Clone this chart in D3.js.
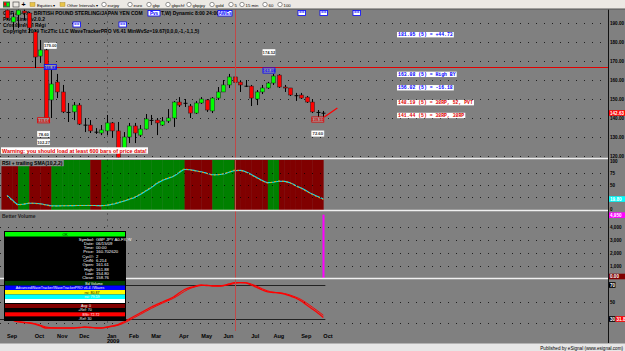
<!DOCTYPE html>
<html><head><meta charset="utf-8">
<script src="https://cdn.jsdelivr.net/npm/d3@7"></script>
<style>
body{margin:0;background:#808080;overflow:hidden}
svg{display:block;font-family:'Liberation Sans',Arial,sans-serif}
</style></head>
<body><svg id="c" width="625" height="351"></svg>
<script>
// ---------------- DATA ----------------
const monthLabels = ["Sep","Oct","Nov","Dec","Jan","Feb","Mar","Apr","May","Jun","Jul","Aug","Sep","Oct"];
const monthBars   = [0,5,9,13,18,22,26,31,35,39,44,48,53,57];
const yearLabel = {bar:18, text:"2009"};

const open  = [196.8,190.5,194.2,196.3,195.3,185.3,172.6,175.8,149.5,158.9,153.7,143.2,143.2,146.8,136.5,136.3,132.8,132.1,133.2,137.4,133.2,122.1,130.0,135.8,131.0,134.2,139.0,138.9,136.3,138.4,140.0,148.4,148.0,146.3,142.6,147.9,149.5,143.7,150.5,153.7,157.4,161.61,158.9,157.0,156.8,150.0,153.7,155.8,158.4,162.6,156.3,155.8,152.0,152.1,151.0,148.4,143.2,142.8];
const high  = [198.5,195.3,197.5,197.4,195.8,186.3,181.0,179.0,165.3,163.2,157.4,147.9,148.4,147.9,140.0,138.9,134.7,136.3,141.6,137.9,137.9,132.6,137.4,137.4,136.3,142.1,141.6,140.0,140.5,144.7,148.9,151.0,150.0,147.4,148.9,151.0,150.0,151.0,156.3,160.0,163.2,161.88,159.5,160.0,157.4,154.7,157.4,159.0,163.2,163.08,157.4,155.8,153.2,153.2,151.6,150.0,144.2,143.7];
const low   = [191.6,186.3,187.4,191.6,184.7,166.3,169.0,139.0,140.0,150.5,142.6,137.9,138.9,136.3,132.6,132.1,131.6,131.0,131.0,129.5,118.0,121.6,126.8,126.8,130.0,134.0,136.3,131.0,135.8,137.4,135.3,145.8,145.8,140.0,142.1,147.4,143.2,142.6,149.5,153.7,155.8,154.80,153.7,156.3,146.3,146.8,152.6,155.3,157.4,155.8,153.7,151.6,149.0,150.0,147.9,142.6,140.0,140.0];
const close = [192.6,193.2,196.8,195.3,187.4,172.1,175.8,140.0,157.9,153.7,143.2,143.0,146.8,136.8,136.3,133.2,132.6,133.7,137.4,133.2,119.0,130.0,135.8,132.1,134.2,139.5,138.9,137.4,138.4,140.0,148.4,146.8,147.9,142.6,147.9,150.0,144.2,150.5,153.7,157.4,161.6,158.76,157.4,156.8,150.5,153.7,155.8,158.4,162.1,156.3,155.8,152.1,151.9,150.5,148.4,143.2,143.0,142.6];

const rsi    = [27.1,16.7,8.3,10.4,12.5,11.5,10.4,8.3,6.3,6.5,6.8,7.0,7.2,7.3,7.4,7.5,7.0,6.8,8.0,10.4,13.5,16.7,20.8,25.0,31.3,38.5,45.8,54.2,60.4,64.6,68.8,77.0,83.3,81.3,79.2,77.1,74.0,70.8,71.5,73.5,77.1,80.87,80.2,77.1,70.8,64.6,58.3,54.2,56.3,58.3,57.3,54.2,47.9,42.7,36.5,30.2,25.0,19.8];
const rsiSma = [28.5,18.5,9.5,9.8,12.0,12.0,10.9,8.9,6.8,6.6,6.7,6.9,7.1,7.2,7.3,7.4,7.2,7.0,7.7,9.8,12.8,16.0,20.0,24.2,30.2,37.3,44.6,53.0,59.4,63.8,68.0,75.8,82.2,81.8,79.8,77.6,74.6,71.4,71.3,73.0,76.4,79.59,80.4,77.8,71.8,65.6,59.4,55.0,55.8,57.9,57.6,54.9,48.9,43.7,37.5,31.2,26.0,20.8];
const rsiTrend = ["dn","dn","dn","up","up","dn","dn","dn","dn","up","up","up","up","up","up","up","dn","dn","up","up","up","up","up","up","up","up","up","up","up","up","up","up","up","dn","dn","dn","dn","dn","up","up","up","up","dn","dn","dn","dn","dn","dn","up","up","dn","dn","dn","dn","dn","dn","dn","dn"];

const volume = [0,0,0,0,0,0,0,0,0,0,0,0,0,0,0,0,0,0,0,0,0,0,0,0,0,0,0,0,0,0,0,0,0,0,0,0,0,0,0,0,0,0,0,0,0,0,0,0,0,0,0,0,0,0,0,0,0,4950];

const osc    = [38.2,28.8,26.5,25.9,25.3,24.1,21.8,19.4,19.4,19.4,19.4,19.4,19.4,20.0,20.6,20.0,19.4,19.4,20.6,21.8,23.5,26.5,30.0,33.5,37.1,40.6,44.1,47.1,50.0,52.9,55.9,60.6,64.7,67.1,68.8,70.0,69.4,68.8,68.8,69.4,71.2,72.72,72.9,72.4,70.0,67.1,64.1,61.8,61.2,60.6,59.4,57.1,54.7,51.2,46.5,41.8,37.1,31.8];
const oscSig = [36.0,31.0,27.5,26.2,25.5,24.6,22.8,20.6,19.8,19.4,19.4,19.4,19.4,19.7,20.3,20.3,19.7,19.4,20.0,21.2,22.6,25.0,28.3,31.8,35.3,38.9,42.4,45.6,48.6,51.5,54.4,58.3,62.6,65.9,68.0,69.4,69.7,69.1,68.8,69.1,70.3,71.8,72.7,72.7,71.2,68.6,65.6,63.0,61.5,60.9,60.0,58.2,55.9,52.9,48.8,44.1,39.4,34.4];

const priceTicks = [190,180,170,160,150,140,130,120];
const rsiTicks = [100,75,50,0];
const rsiGrid = [75,50,25];
const volTicks = [4000,3000,2000,1000];
const oscTicks = [50];
const oscRefs = [70,30];
const oscGrid = [50,25];

const pivotLevel = 166.84;
const cursorBar = 41;
const levelLabels = [
  {p:183.95, text:"181.95 (5) = +44.73", c:"blue"},
  {p:163.08, text:"163.08 (5) = High BY", c:"blue"},
  {p:156.02, text:"156.02 (5) = -16.18", c:"blue"},
  {p:148.19, text:"148.19 (5) = 38RP, 52, PVT", c:"red"},
  {p:141.44, text:"141.44 (5) = 38RP, 38RP", c:"red"}
];
const waveLabels = [
  {bar:7.8, p:178.0, text:"179.00", k:"w"},
  {bar:7.8, p:166.84, text:"166.84", k:"b"},
  {bar:6.6, p:138.8, text:"139.04", k:"r"},
  {bar:6.6, p:131.6, text:"78.60", k:"w"},
  {bar:6.6, p:127.4, text:"102.27", k:"w"},
  {bar:47.2, p:174.6, text:"174.52", k:"w"},
  {bar:47.2, p:165.0, text:"163.08", k:"b"},
  {bar:56.0, p:139.2, text:"139.55", k:"r"},
  {bar:56.0, p:131.8, text:"72.60", k:"w"}
];
const lastPrice = 142.63;

// ---------------- LAYOUT ----------------
const svg = d3.select("#c");
const AX = 608;
const main = {t:9.5, b:157.5}, rp = {t:159.5, b:210}, vp = {t:211.5, b:278}, op = {t:279.5, b:331};

const x = d3.scaleLinear().domain([0,57]).range([7,323.35]);
const yP = d3.scaleLinear().domain([120,190]).range([156,23]);
const yR = d3.scaleLinear().domain([0,100]).range([209,161]);
const yV = d3.scaleLinear().domain([0,5000]).range([279,214]);
const yO = d3.scaleLinear().domain([30,70]).range([319,285]);
const bars = d3.range(open.length);

svg.append("rect").attr("width",625).attr("height",351).attr("fill","#808080");

const defs = svg.append("defs");
[["cm",main],["cr",rp],["cv",vp],["co",op]].forEach(([id,p])=>{
  defs.append("clipPath").attr("id",id).append("rect").attr("x",0).attr("y",p.t).attr("width",AX).attr("height",p.b-p.t);
});

function dotted(g, y1, x1, x2){
  g.append("line").attr("x1",x1).attr("x2",x2).attr("y1",y1).attr("y2",y1)
   .attr("stroke","#000").attr("stroke-width",1).attr("stroke-dasharray","1,7").attr("opacity",0.75);
}
function boxedText(parent, xx, yy, txt, opts){
  const g = parent.append("g");
  const r = g.append("rect").attr("fill",opts.bg||"#fff");
  if(opts.stroke) r.attr("stroke",opts.stroke).attr("stroke-width",0.8);
  const t = g.append("text").attr("x",xx).attr("y",yy).attr("font-size",opts.size||"5px").attr("font-weight","bold")
    .attr("fill",opts.fg||"#000").attr("text-anchor",opts.anchor||"start").text(txt);
  if(opts.family) t.attr("font-family",opts.family);
  const bb = t.node().getBBox();
  const px = opts.pad==null?1:opts.pad;
  r.attr("x",bb.x-px).attr("y",bb.y-0.2).attr("width",bb.width+2*px).attr("height",bb.height+0.4);
  return g;
}

// ---------- RSI panel background stripes ----------
const gR = svg.append("g").attr("clip-path","url(#cr)");
gR.selectAll("rect.s").data(bars).join("rect")
  .attr("x",i=>x(i-1)).attr("width",i=>x(i)-x(i-1)+0.3)
  .attr("y",rp.t+0.5).attr("height",rp.b-rp.t-0.5)
  .attr("fill",i=>rsiTrend[i]==="up"?"#008000":"#800000");

// gridlines
const gGrid = svg.append("g");
priceTicks.forEach(t=>dotted(gGrid, Math.round(yP(t))+0.5, 0, AX-2));
rsiGrid.forEach(t=>dotted(gGrid, Math.round(yR(t))+0.5, 0, AX-2));
[1000,2000,3000,4000].forEach(t=>dotted(gGrid, Math.round(yV(t))+0.5, 0, AX-2));
oscGrid.forEach(t=>dotted(gGrid, Math.round(yO(t))+0.5, 0, AX-2));
gGrid.append("line").attr("x1",Math.round(x(yearLabel.bar))+0.5).attr("x2",Math.round(x(yearLabel.bar))+0.5)
  .attr("y1",main.t).attr("y2",op.b).attr("stroke","#000").attr("stroke-dasharray","1,5").attr("opacity",0.6);

// ---------- title texts ----------
const gT = svg.append("g").attr("font-size","5px").attr("font-weight","bold").attr("fill","#000");
gT.append("text").attr("x",3).attr("y",15).text("GBP A0-FX - BRITISH POUND STERLING/JAPAN YEN COM");
gT.append("text").attr("x",161).attr("y",15).text("T,W) Dynamic 8:00 24:00");
gT.append("text").attr("x",3).attr("y",21).text("Pivot Lines v2.0.2");
gT.append("text").attr("x",3).attr("y",27).text("Crossfire/vol Regi");
gT.append("text").attr("x",3).attr("y",33).text("Copyright 2009 Tic2Tic LLC WaveTrackerPRO V6.41 MinWvSz=19.67(0,0,0,-1,-1,1,5)");
function tag(x0,y0,w,h,txt,fg,bd){
  const g=svg.append("g");
  g.append("rect").attr("x",x0).attr("y",y0).attr("width",w).attr("height",h).attr("fill","#fff").attr("stroke",bd).attr("stroke-width",0.8);
  g.append("text").attr("x",x0+w/2).attr("y",y0+h-1.2).attr("text-anchor","middle").attr("font-size","4.6px").attr("font-weight","bold").attr("fill",fg).text(txt);
}
tag(148,10.5,12,5.5,"Pvs","#00f","#00f");
tag(218,10.5,14,5.5,"AWEs","#00f","#00f");
[[73,22],[119,22],[298,10.5],[320,10.5],[353,10.5]].forEach(([a,b])=>tag(a,b,7.5,5,"==","#00f","#00f"));

// ---------- main panel ----------
const gM = svg.append("g").attr("clip-path","url(#cm)");
gM.append("line").attr("x1",0).attr("x2",AX).attr("y1",Math.round(yP(pivotLevel))+0.5).attr("y2",Math.round(yP(pivotLevel))+0.5)
  .attr("stroke","#e00000").attr("stroke-width",1);
const cg = gM.selectAll("g.c").data(bars).join("g").attr("class","c");
cg.append("line").attr("x1",i=>Math.round(x(i))+0.5).attr("x2",i=>Math.round(x(i))+0.5)
  .attr("y1",i=>yP(high[i])).attr("y2",i=>yP(low[i])).attr("stroke","#000").attr("stroke-width",1);
cg.append("rect")
  .attr("x",i=>Math.round(x(i))-1.5).attr("width",4)
  .attr("y",i=>yP(Math.max(open[i],close[i])))
  .attr("height",i=>Math.max(1,Math.abs(yP(open[i])-yP(close[i]))))
  .attr("fill",i=>Math.abs(open[i]-close[i])<0.3?"#000":(close[i]>=open[i]?"#00ff00":"#ff0000"))
  .attr("stroke",i=>Math.abs(open[i]-close[i])<0.3?"none":"#202020").attr("stroke-width",0.5);
gM.append("line").attr("x1",x(57)+1).attr("y1",yP(low[57])-1).attr("x2",x(57)+14).attr("y2",yP(low[57])-10)
  .attr("stroke","#ff0000").attr("stroke-width",1.3);
waveLabels.forEach(d=>{
  const cx=x(d.bar), cy=yP(d.p);
  const g=gM.append("g");
  g.append("rect").attr("x",cx-6).attr("y",cy-2.6).attr("width",12).attr("height",5.2)
   .attr("fill",d.k==="w"?"#fff":"#9a9a9a").attr("stroke",d.k==="b"?"#0000ff":d.k==="r"?"#e00000":"#fff").attr("stroke-width",0.8);
  g.append("text").attr("x",cx).attr("y",cy+1.6).attr("text-anchor","middle").attr("font-size","4.2px").attr("font-weight","bold")
   .attr("fill",d.k==="b"?"#0000ff":d.k==="r"?"#e00000":"#333").text(d.text);
});
levelLabels.forEach(d=>{
  boxedText(gM, 398, yP(d.p)+1.7, d.text, {size:"4.8px", family:"'Liberation Mono',monospace", fg:d.c==="blue"?"#0000ff":"#e00000"});
});
boxedText(gM, 2, 152.5, "Warning: you should load at least 600 bars of price data!", {size:"5.4px", fg:"#e00000"});

// ---------- RSI lines ----------
const lineR = d3.line().x((d,i)=>x(i)).y(d=>yR(d)).curve(d3.curveMonotoneX);
gR.append("path").datum(rsiSma).attr("d",lineR).attr("fill","none").attr("stroke","#00e0ff").attr("stroke-width",1.1);
gR.append("path").datum(rsi).attr("d",lineR).attr("fill","none").attr("stroke","#ff9900").attr("stroke-width",1).attr("stroke-dasharray","2,2");
boxedText(svg, 2, 165, "RSI + trailing SMA(10,2,2)", {size:"5px", bg:"#8c8c8c"});

// ---------- volume ----------
const gV = svg.append("g").attr("clip-path","url(#cv)");
gV.selectAll("rect").data(bars.filter(i=>volume[i]>0)).join("rect")
  .attr("x",i=>Math.round(x(i))-0.5).attr("width",2)
  .attr("y",i=>yV(volume[i])).attr("height",i=>yV(0)-yV(volume[i])).attr("fill","#ff00ff");
svg.append("text").attr("x",2).attr("y",218).attr("font-size","5px").attr("font-weight","bold").attr("fill","#222").text("Better Volume");

// ---------- oscillator ----------
const gO = svg.append("g").attr("clip-path","url(#co)");
oscRefs.forEach(t=>gO.append("line").attr("x1",0).attr("x2",x(57)+2).attr("y1",Math.round(yO(t))+0.5).attr("y2",Math.round(yO(t))+0.5).attr("stroke","#222").attr("stroke-width",1));
const lineO = d3.line().x((d,i)=>x(i)).y(d=>yO(d)).curve(d3.curveMonotoneX);
gO.append("path").datum(oscSig).attr("d",lineO).attr("fill","none").attr("stroke","#ff0000").attr("stroke-width",1);
gO.append("path").datum(osc).attr("d",lineO).attr("fill","none").attr("stroke","#ff0000").attr("stroke-width",1.3);

// cursor line
svg.append("line").attr("x1",Math.round(x(cursorBar))+0.5).attr("x2",Math.round(x(cursorBar))+0.5).attr("y1",main.t).attr("y2",op.b)
  .attr("stroke","#c04848").attr("stroke-width",1);

// ---------- panel separators ----------
[158.5,210.5,278.5].forEach(y=>svg.append("line").attr("x1",0).attr("x2",AX).attr("y1",y).attr("y2",y).attr("stroke","#f0f0f0").attr("stroke-width",1.5));

// ---------- right axes ----------
svg.append("line").attr("x1",AX+0.5).attr("x2",AX+0.5).attr("y1",main.t).attr("y2",343).attr("stroke","#111").attr("stroke-width",1);
function rAxis(scale, ticks, fmt){
  const g=svg.append("g").attr("transform",`translate(${AX},0)`)
    .call(d3.axisRight(scale).tickValues(ticks).tickFormat(fmt).tickSize(0).tickPadding(2));
  g.select(".domain").remove();
  g.selectAll("text").attr("font-size","4.6px").attr("font-weight","bold").attr("fill","#000").attr("font-family","'Liberation Sans',Arial,sans-serif");
  return g;
}
rAxis(yP, priceTicks, d3.format(".2f"));
rAxis(yR, rsiTicks, d3.format("d"));
rAxis(yV, volTicks, d3.format(","));
rAxis(yO, oscTicks, d3.format("d"));
function valBox(x0, w, y, txt, bg, fg){
  svg.append("rect").attr("x",x0).attr("y",y-2.8).attr("width",w).attr("height",5.6).attr("fill",bg);
  svg.append("text").attr("x",x0+1).attr("y",y+1.7).attr("font-size","4.6px").attr("font-weight","bold").attr("fill",fg).text(txt);
}
valBox(AX+1, 16, yP(lastPrice), d3.format(".2f")(lastPrice), "#ff0000", "#fff");
valBox(AX+1, 16, yR(rsiSma[57]), d3.format(".2f")(rsi[57]), "#00ffff", "#fff");
valBox(AX+1, 16, yV(volume[57])+0.5, d3.format(",.0f")(volume[57]), "#ff00ff", "#fff");
valBox(AX+1, 16, yV(0)-2.5, "0.00", "#800000", "#fff");
valBox(AX+1, 6.5, yO(oscRefs[0]), d3.format("d")(oscRefs[0]), "#000", "#fff");
valBox(AX+1, 6.5, yO(oscRefs[1]), d3.format("d")(oscRefs[1]), "#000", "#fff");
valBox(AX+7.5, 9.5, yO(oscRefs[1]), d3.format(".1f")(osc[57]), "#ff0000", "#fff");

// ---------- x axis ----------
const gX = svg.append("g").attr("font-size","5.6px").attr("font-weight","bold").attr("fill","#000");
gX.selectAll("text.m").data(monthBars).join("text").attr("x",i=>x(i)).attr("y",337.5).text((d,k)=>monthLabels[k]);
gX.append("text").attr("x",x(yearLabel.bar)).attr("y",343).text(yearLabel.text);

svg.append("rect").attr("x",0).attr("y",343.5).attr("width",625).attr("height",8).attr("fill","#e6e6e6");
svg.append("text").attr("x",623).attr("y",349.5).attr("text-anchor","end").attr("font-size","4.6px").attr("fill","#000").text("Published by eSignal (www.esignal.com)");

// ---------- data window ----------
const dw = svg.append("g");
dw.append("rect").attr("x",4).attr("y",231).attr("width",122).attr("height",90).attr("fill","#000");
const i0 = cursorBar;
const kv = [["Symbol:","GBP JPY A0-FX,W"],["Date:","06/15/09"],["Time:","00:00"],["Price:","160.702620"],["Cycl#:","2"],["CntN:","6.214"],
  ["Open:",open[i0].toFixed(2)],["High:",high[i0].toFixed(2)],["Low:",low[i0].toFixed(2)],["Close:",close[i0].toFixed(2)]];
kv.forEach((r,k)=>{
  const yy=240.5+k*4.3;
  dw.append("text").attr("x",94).attr("y",yy).attr("text-anchor","end").attr("font-size","4.2px").attr("fill","#fff").text(r[0]);
  dw.append("text").attr("x",96).attr("y",yy).attr("font-size","4.2px").attr("fill","#fff").text(r[1]);
});
const rows = [
  [232,4.5,"#00ff00","OK","#000",65],
  [281,4.5,"#004000","Bd Volume","#fff",94],
  [285.5,4.5,"#0000ff","AdvancedWaveTracker/WaveTrackerPRO v6.4 #Waves","#fff",60],
  [290,4.5,"#ffff00","rsi: "+rsi[i0].toFixed(2),"#000",92],
  [294.5,4.5,"#00ffff","rsi: "+rsiSma[i0].toFixed(2),"#fff",92],
  [299,4,"#ffffff","","#000",92],
  [304,4,"#800000","Avg: 0","#fff",86],
  [308,4.3,"#000000","+Ref: 70","#fff",85],
  [312.3,4.3,"#ff0000","BSt: "+osc[i0].toFixed(2),"#fff",91],
  [316.6,4.4,"#000000","-Ref: 30","#fff",85]
];
rows.forEach(r=>{
  dw.append("rect").attr("x",5).attr("y",r[0]).attr("width",120).attr("height",r[1]).attr("fill",r[2]);
  if(r[3]) dw.append("text").attr("x",r[5]).attr("y",r[0]+r[1]-0.9).attr("text-anchor","middle").attr("font-size","3.6px").attr("fill",r[4]).text(r[3]);
});

// ---------- toolbar ----------
const tb = svg.append("g");
tb.append("rect").attr("width",625).attr("height",9).attr("fill","#ece9e4");
tb.append("line").attr("x1",0).attr("x2",625).attr("y1",9).attr("y2",9).attr("stroke","#555");
tb.append("rect").attr("x",3).attr("y",1.5).attr("width",7).attr("height",6).attr("fill","#3a7a3a");
tb.append("rect").attr("x",4).attr("y",2.5).attr("width",2).attr("height",3).attr("fill","#f00");
tb.append("rect").attr("x",7).attr("y",3).attr("width",2).attr("height",3).attr("fill","#0f0");
tb.append("rect").attr("x",13).attr("y",2).attr("width",6).attr("height",5).attr("fill","none").attr("stroke","#333").attr("stroke-width",0.6);
tb.append("text").attr("x",21.5).attr("y",7).attr("font-size","7px").attr("font-weight","bold").text("+");
[[30,"Equities ▾"],[60,"Other Intervals ▾"]].forEach(([a,t])=>{
  tb.append("rect").attr("x",a).attr("y",2.5).attr("width",5).attr("height",4).attr("fill","#e8c44a").attr("stroke","#a08020").attr("stroke-width",0.4);
  tb.append("text").attr("x",a+7).attr("y",6.5).attr("font-size","4.3px").text(t);
});
[[102,"eurjpy"],[128,"euro"],[147,"gbp"],[166,"gbpchf"],[187,"gbpjpy"],[210,"gold"],[229,"5"],[240,"15 min"],[263,"60"],[278,"100"]].forEach(([a,t])=>{
  tb.append("circle").attr("cx",a+2).attr("cy",4.5).attr("r",2.2).attr("fill","#fff").attr("stroke","#333").attr("stroke-width",0.5);
  tb.append("text").attr("x",a+5.5).attr("y",6.5).attr("font-size","4.3px").text(t);
});
</script></body></html>
